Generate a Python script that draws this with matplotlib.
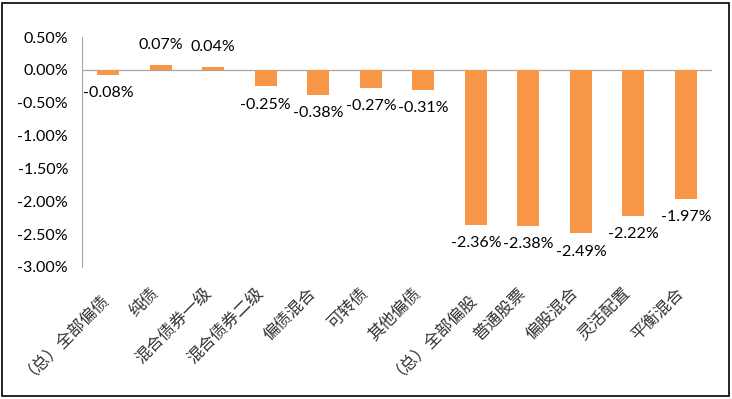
import matplotlib.pyplot as plt
import matplotlib.transforms as mtransforms
from matplotlib.patches import Rectangle

plt.rcParams['font.family'] = ['Noto Sans CJK SC', 'DejaVu Sans']

categories = ['（总）全部偏债', '纯债', '混合债券一级', '混合债券二级', '偏债混合', '可转债',
              '其他偏债', '（总）全部偏股', '普通股票', '偏股混合', '灵活配置', '平衡混合']
values = [-0.08, 0.07, 0.04, -0.25, -0.38, -0.27, -0.31, -2.36, -2.38, -2.49, -2.22, -1.97]
yticks = [0.5, 0.0, -0.5, -1.0, -1.5, -2.0, -2.5, -3.0]

num_font = ['Lato', 'DejaVu Sans']

fig = plt.figure(figsize=(7.32, 3.99), dpi=100)
ax = fig.add_axes([0.112, 0.331, 0.861, 0.576])

x = list(range(len(categories)))
ax.bar(x, values, width=0.42, color='#F79646', zorder=2)

for xi, v in zip(x, values):
    if v >= 0:
        ax.text(xi, v + 0.2, f'{v:.2f}%', ha='center', va='bottom', fontsize=11.5,
                family=num_font)
    else:
        ax.text(xi, v - 0.17, f'{v:.2f}%', ha='center', va='top', fontsize=11.5,
                family=num_font)

ax.set_xlim(-0.5, len(categories) - 0.5)
ax.set_ylim(-3.0, 0.5)
ax.set_yticks(yticks)
ax.set_yticklabels([f'{t:.2f}%' for t in yticks], fontsize=11.5, family=num_font)
ax.tick_params(axis='y', length=0, pad=10)
ax.axhline(0, color='#A6A6A6', lw=0.9, zorder=1)

ax.set_xticks(x)
ax.set_xticklabels(categories, rotation=45, ha='right', va='center',
                   rotation_mode='anchor', fontsize=12, color='#333333',
                   fontweight='light')
ax.tick_params(axis='x', length=0, pad=17)
shift = mtransforms.ScaledTranslation(-5 / 100, 0, fig.dpi_scale_trans)
for lbl in ax.get_xticklabels():
    lbl.set_transform(lbl.get_transform() + shift)

for s in ['top', 'right', 'bottom']:
    ax.spines[s].set_visible(False)
ax.spines['left'].set_color('#A6A6A6')

fig.patches.append(Rectangle((0.003, 0.008), 0.993, 0.985, transform=fig.transFigure,
                             fill=False, edgecolor='black', lw=1.2))

fig.savefig('out.png', dpi=100)
